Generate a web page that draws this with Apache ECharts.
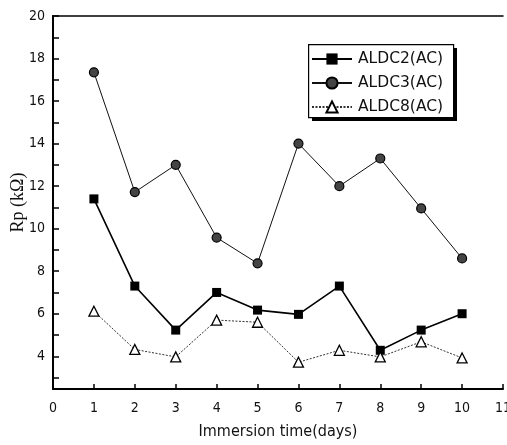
<!DOCTYPE html>
<html>
<head>
<meta charset="utf-8">
<script src="https://cdn.jsdelivr.net/npm/echarts@6/dist/echarts.min.js"></script>
<style>html,body{margin:0;padding:0;background:#fff}#c{width:507px;height:445px}</style>
</head>
<body>
<div id="c"></div>
<script>
const days = [1, 2, 3, 4, 5, 6, 7, 8, 9, 10];
const aldc2 = [11.4, 7.3, 5.23, 7.0, 6.17, 5.97, 7.3, 4.28, 5.23, 6.0];
const aldc3 = [17.35, 11.72, 13.0, 9.58, 8.37, 14.0, 12.0, 13.3, 10.95, 8.6];
const aldc8 = [6.12, 4.32, 3.97, 5.7, 5.6, 3.72, 4.28, 3.97, 4.68, 3.92];
const yLabelValues = [4, 6, 8, 10, 12, 14, 16, 18, 20];
const yTickValues = [3, 4, 5, 6, 7, 8, 9, 10, 11, 12, 13, 14, 15, 16, 17, 18, 19, 20];
const xTickLabels = [0, 1, 2, 3, 4, 5, 6, 7, 8, 9, 10, 11];
const names = ['ALDC2(AC)', 'ALDC3(AC)', 'ALDC8(AC)'];

const narrow = "'Liberation Sans Narrow', 'DejaVu Sans Condensed', 'Liberation Sans', sans-serif";
const chart = echarts.init(document.getElementById('c'), null, {renderer: 'canvas'});
const pairs = arr => days.map((d, i) => [d, arr[i]]);

chart.setOption({
  animation: false,
  backgroundColor: '#fff',
  grid: {left: 53, right: 4, top: 16, bottom: 56, containLabel: false, outerBoundsMode: 'none'},
  graphic: [
    {type: 'rect', left: 312, top: 48, shape: {width: 145, height: 73}, style: {fill: '#000'}, z: 5},
    {type: 'rect', left: 308, top: 44, shape: {width: 145, height: 73}, style: {fill: '#fff', stroke: '#000', lineWidth: 1.2}, z: 6}
  ],
  legend: {
    orient: 'vertical',
    left: 311, top: 51,
    padding: 0,
    itemGap: 8,
    itemWidth: 40, itemHeight: 14,
    z: 10,
    textStyle: {fontFamily: "'DejaVu Sans', sans-serif", fontSize: 15.5, color: '#111', padding: [0, 0, 0, 1]},
    data: names
  },
  xAxis: [{
    type: 'value', min: 0, max: 11, interval: 1,
    axisLine: {show: true, lineStyle: {color: '#000', width: 2}},
    axisTick: {show: true, inside: true, length: 5, lineStyle: {color: '#000', width: 1.5}},
    axisLabel: {
      color: '#111', fontFamily: narrow, fontSize: 14, margin: 12,
      formatter: v => xTickLabels.includes(v) ? String(v) : ''
    },
    splitLine: {show: false},
    name: 'Immersion time(days)', nameLocation: 'middle', nameGap: 35,
    nameTextStyle: {fontFamily: narrow, fontSize: 16, color: '#111'}
  }, {
    type: 'value', min: 0, max: 11, position: 'top',
    axisLine: {show: true, lineStyle: {color: '#000', width: 1.5}},
    axisTick: {show: false}, axisLabel: {show: false}, splitLine: {show: false}
  }],
  yAxis: [{
    type: 'value', min: 2.46, max: 20,
    axisLine: {show: true, lineStyle: {color: '#000', width: 2}},
    axisTick: {show: true, inside: true, length: 6, customValues: yTickValues, lineStyle: {color: '#000', width: 1.5}},
    axisLabel: {color: '#111', fontFamily: narrow, fontSize: 14, margin: 8, customValues: yLabelValues},
    splitLine: {show: false},
    name: 'Rp (kΩ)', nameLocation: 'middle', nameGap: 26, nameRotate: 90, nameMoveOverlap: false,
    nameTextStyle: {fontFamily: "'Liberation Serif', 'DejaVu Serif', serif", fontSize: 18, color: '#111'}
  }, {
    type: 'value', min: 2.46, max: 20, position: 'right',
    axisLine: {show: true, lineStyle: {color: '#000', width: 1.5}},
    axisTick: {show: false}, axisLabel: {show: false}, splitLine: {show: false}
  }],
  series: [{
    name: names[0], type: 'line', data: pairs(aldc2),
    symbol: 'rect', symbolSize: 9,
    itemStyle: {color: '#000'},
    lineStyle: {color: '#000', width: 1.6}
  }, {
    name: names[1], type: 'line', data: pairs(aldc3),
    symbol: 'circle', symbolSize: 9,
    itemStyle: {color: '#444', borderColor: '#000', borderWidth: 1.2},
    lineStyle: {color: '#111', width: 1}
  }, {
    name: names[2], type: 'line', data: pairs(aldc8),
    symbol: 'triangle', symbolSize: 10,
    itemStyle: {color: '#fff', borderColor: '#000', borderWidth: 1.3},
    lineStyle: {color: '#333', width: 1, type: [2, 1.5]}
  }]
});
</script>
</body>
</html>
